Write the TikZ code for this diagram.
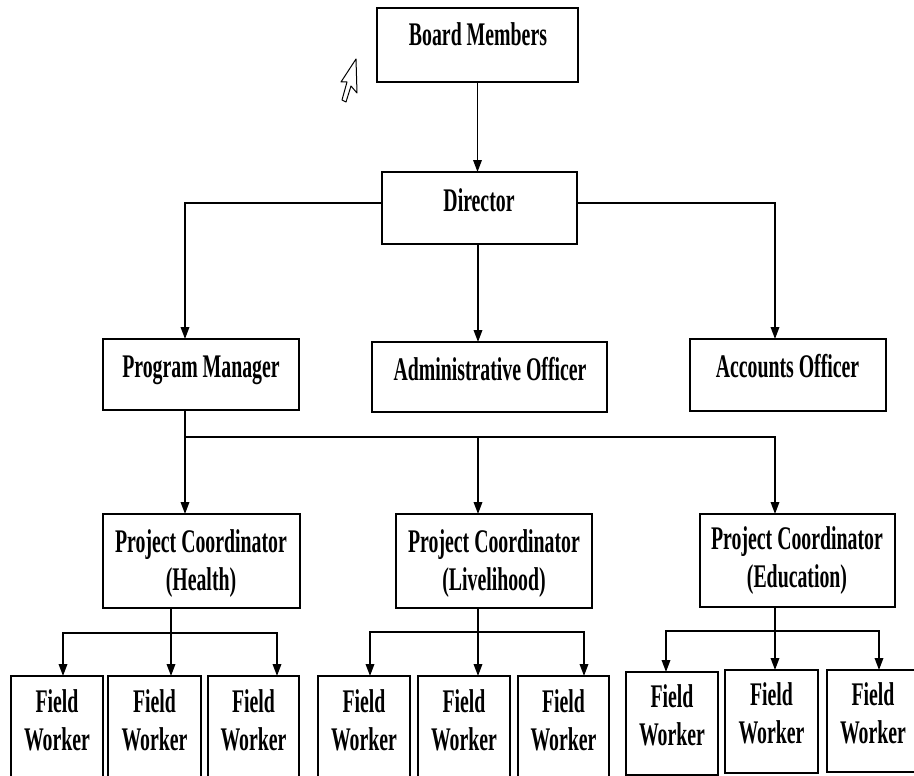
\documentclass[tikz,border=0pt]{standalone}
\usepackage{fontspec}
\newfontfamily\condfont[FakeStretch=0.6]{Liberation Serif Bold}
\usetikzlibrary{arrows.meta}
\begin{document}
\begin{tikzpicture}[x=1pt,y=-1pt,
  box/.style={draw, line width=2pt, inner sep=0pt, outer sep=0pt},
  lbl/.style={font=\condfont\fontsize{33}{36}\selectfont, inner sep=0pt, anchor=base},
  conn/.style={line width=1.8pt, line cap=rect},
  arr/.style={line width=1.8pt, -{Triangle[width=8.5pt,length=12pt]}}]
\clip (0,0) rectangle (914,776);
\fill[white] (0,0) rectangle (914,776);

% boxes
\node[box, minimum width=201pt, minimum height=74pt] (bm) at (477.5,45) {};
\node[box, minimum width=195pt, minimum height=72pt] (dir) at (479.5,208) {};
\node[box, minimum width=196pt, minimum height=71pt] (pm) at (201,374.5) {};
\node[box, minimum width=235pt, minimum height=70pt] (ao) at (489.5,377) {};
\node[box, minimum width=196pt, minimum height=72pt] (acc) at (788,375) {};
\node[box, minimum width=197pt, minimum height=94pt] (pch) at (201.5,561) {};
\node[box, minimum width=196pt, minimum height=94pt] (pcl) at (494,561) {};
\node[box, minimum width=195pt, minimum height=93pt] (pce) at (797.5,560.5) {};
\node[box, minimum width=92pt, minimum height=104pt] (fh1) at (57,728) {};
\node[box, minimum width=93pt, minimum height=104pt] (fh2) at (154.5,728) {};
\node[box, minimum width=91pt, minimum height=104pt] (fh3) at (253.5,728) {};
\node[box, minimum width=92pt, minimum height=104pt] (fl1) at (364,728) {};
\node[box, minimum width=92pt, minimum height=104pt] (fl2) at (464,728) {};
\node[box, minimum width=91pt, minimum height=104pt] (fl3) at (563.5,728) {};
\node[box, minimum width=92pt, minimum height=103pt] (fe1) at (672,723.5) {};
\node[box, minimum width=93pt, minimum height=103pt] (fe2) at (771.5,721.5) {};
\node[box, minimum width=92pt, minimum height=102pt] (fe3) at (873,721) {};

% texts
\node[lbl] (tbm) at (478,46) {Board Members};
\node[lbl] (tdir) at (479,211) {Director};
\node[lbl] (tpm) at (201,377) {Program Manager};
\node[lbl] (tao) at (490,380) {Administrative Officer};
\node[lbl] (tacc) at (787.5,377) {Accounts Officer};
\node[lbl] (tpch1) at (201,552) {Project Coordinator};
\node[lbl] (tpch2) at (201,590) {(Health)};
\node[lbl] (tpcl1) at (494,552) {Project Coordinator};
\node[lbl] (tpcl2) at (494,590) {(Livelihood)};
\node[lbl] (tpce1) at (797,549) {Project Coordinator};
\node[lbl] (tpce2) at (797,587) {(Education)};
\foreach \n/\x in {fh1/57,fh2/154.5,fh3/253.5,fl1/364,fl2/464,fl3/563.5}{
  \node[lbl] (a\n) at (\x,712) {Field};
  \node[lbl] (b\n) at (\x,750) {Worker};
}
\node[lbl] (afe1) at (672,707) {Field};
\node[lbl] (bfe1) at (672,745) {Worker};
\node[lbl] (afe2) at (771.5,705) {Field};
\node[lbl] (bfe2) at (771.5,743) {Worker};
\node[lbl] (afe3) at (873,705) {Field};
\node[lbl] (bfe3) at (873,743) {Worker};

% connectors, top part
\draw[arr] (bm.south) -- (bm.south |- dir.north);
\draw[arr] ([yshift=5pt]dir.west) -| ([xshift=-16pt]pm.north);
\draw[arr] ([yshift=5pt]dir.east) -| ([xshift=-13pt]acc.north);
\draw[arr] ([xshift=-1.5pt]dir.south) -- ([xshift=-1.5pt]dir.south |- ao.north);

% program manager to coordinators
\coordinate (b1) at (185,437);
\coordinate (b2) at (478,437);
\coordinate (b3) at (775,437);
\draw[conn] (b1 |- pm.south) -- (b1) -- (b3);
\draw[arr] (b1) -- (b1 |- pch.north);
\draw[arr] (b2) -- (b2 |- pcl.north);
\draw[arr] (b3) -- (b3 |- pce.north);

% health
\coordinate (h0) at (171,633);
\coordinate (hL) at (63,633);
\coordinate (hR) at (277,633);
\draw[conn] (h0 |- pch.south) -- (h0);
\draw[conn] (hL) -- (hR);
\draw[arr] (hL) -- (hL |- fh1.north);
\draw[arr] (h0) -- (h0 |- fh2.north);
\draw[arr] (hR) -- (hR |- fh3.north);

% livelihood
\coordinate (l0) at (478,632);
\coordinate (lL) at (370,632);
\coordinate (lR) at (584,632);
\draw[conn] (l0 |- pcl.south) -- (l0);
\draw[conn] (lL) -- (lR);
\draw[arr] (lL) -- (lL |- fl1.north);
\draw[arr] (l0) -- (l0 |- fl2.north);
\draw[arr] (lR) -- (lR |- fl3.north);

% education
\coordinate (e0) at (775,631);
\coordinate (eL) at (666,631);
\coordinate (eR) at (879,631);
\draw[conn] (e0 |- pce.south) -- (e0);
\draw[conn] (eL) -- (eR);
\draw[arr] (eL) -- (eL |- fe1.north);
\draw[arr] (e0) -- (e0 |- fe2.north);
\draw[arr] (eR) -- (eR |- fe3.north);

% mouse cursor
\draw[line width=1pt, line join=round, fill=white]
  (356,59) -- (341,82) -- (347,82) -- (342,100) -- (346,102) -- (351,86) -- (357,93) -- cycle;
\end{tikzpicture}
\end{document}
